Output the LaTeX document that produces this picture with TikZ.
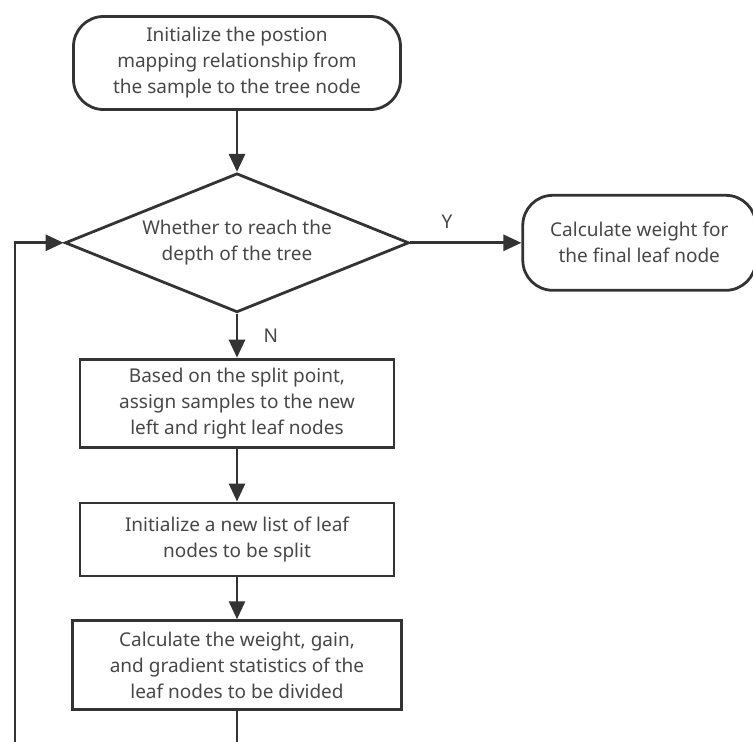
\documentclass[tikz,border=0pt]{standalone}
\usepackage{fontspec}
\setmainfont{Noto Sans}
\usetikzlibrary{arrows.meta,positioning,shapes.geometric}

\begin{document}
\begin{tikzpicture}[
  x=1pt, y=1pt,
  font=\fontsize{19}{26}\selectfont,
  every node/.style={text=black!72},
  term/.style={draw=black!80, line width=2.8pt, rounded corners=30pt, align=center, inner sep=0pt},
  box/.style={draw=black!80, line width=2.8pt, align=center, inner sep=0pt},
  cond/.style={draw=black!80, line width=2.8pt, diamond, aspect=2.47, align=center, inner sep=0pt, minimum width=344pt, minimum height=139pt},
  arr/.style={-{Triangle[length=18pt, width=16pt]}, draw=black!80, line width=2.8pt}
]
\useasboundingbox (0,0) rectangle (753,-742);

\node[term, minimum width=327pt, minimum height=93pt] (init) at (237,-63) {Initialize the postion\\mapping relationship from\\the sample to the tree node};
\node[cond, below=61pt of init] (reach) {Whether to reach the\\depth of the tree};
\node[term, minimum width=233pt, minimum height=95pt, right=111pt of reach] (weight) {Calculate weight for\\the final leaf node};
\node[box, minimum width=314pt, minimum height=88pt, below=44pt of reach] (assign) {Based on the split point,\\assign samples to the new\\left and right leaf nodes};
\node[box, minimum width=314pt, minimum height=73pt, below=53pt of assign] (newlist) {Initialize a new list of leaf\\nodes to be split};
\node[box, minimum width=329pt, minimum height=89pt, below=42pt of newlist] (stats) {Calculate the weight, gain,\\and gradient statistics of the\\leaf nodes to be divided};

\coordinate (cut) at (stats.south |- 0,-742);
\coordinate (back) at (15,-742);

\draw[arr] (init) -- (reach);
\draw[arr] (reach) -- node[pos=0.33, above=10pt] {Y} (weight);
\draw[arr] (reach) -- node[right=22pt] {N} (assign);
\draw[arr] (assign) -- (newlist);
\draw[arr] (newlist) -- (stats);
\draw[arr, -] (stats) -- (cut);
\draw[arr] (back) |- (reach.west);
\end{tikzpicture}
\end{document}
